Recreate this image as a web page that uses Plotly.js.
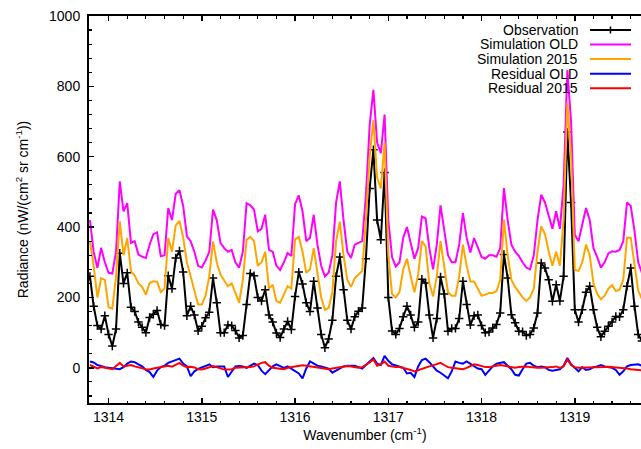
<!DOCTYPE html>
<html>
<head>
<meta charset="utf-8">
<script src="https://cdn.plot.ly/plotly-3.0.1.min.js"></script>
<style>html,body{margin:0;padding:0;background:#fff;}#chart{width:641px;height:449px;}</style>
</head>
<body>
<div id="chart"></div>
<script>
// Wavenumber grid (cm^-1)
const wavenumber = [
1313.80,1313.84,1313.88,1313.92,1313.96,
1314.00,1314.04,1314.08,1314.12,1314.16,1314.20,1314.24,1314.28,1314.32,1314.36,1314.40,1314.44,1314.48,1314.52,1314.56,1314.60,1314.64,1314.68,1314.72,1314.76,1314.80,1314.84,1314.88,1314.92,1314.96,
1315.00,1315.04,1315.08,1315.12,1315.16,1315.20,1315.24,1315.28,1315.32,1315.36,1315.40,1315.44,1315.48,1315.52,1315.56,1315.60,1315.64,1315.68,1315.72,1315.76,1315.80,1315.84,1315.88,1315.92,1315.96,
1316.00,1316.04,1316.08,1316.12,1316.16,1316.20,1316.24,1316.28,1316.32,1316.36,1316.40,1316.44,1316.48,1316.52,1316.56,1316.60,1316.64,1316.68,1316.72,1316.76,1316.80,1316.84,1316.88,1316.92,1316.96,
1317.00,1317.04,1317.08,1317.12,1317.16,1317.20,1317.24,1317.28,1317.32,1317.36,1317.40,1317.44,1317.48,1317.52,1317.56,1317.60,1317.64,1317.68,1317.72,1317.76,1317.80,1317.84,1317.88,1317.92,1317.96,
1318.00,1318.04,1318.08,1318.12,1318.16,1318.20,1318.24,1318.28,1318.32,1318.36,1318.40,1318.44,1318.48,1318.52,1318.56,1318.60,1318.64,1318.68,1318.72,1318.76,1318.80,1318.84,1318.88,1318.92,1318.96,
1319.00,1319.04,1319.08,1319.12,1319.16,1319.20,1319.24,1319.28,1319.32,1319.36,1319.40,1319.44,1319.48,1319.52,1319.56,1319.60,1319.64,1319.68,1319.72
];

const observation = [
260,175,120,110,148,
95,62,110,326,240,270,172,160,130,115,100,143,152,163,123,120,262,225,312,332,272,148,175,150,105,
118,142,158,255,185,100,100,122,120,106,85,92,180,268,262,200,190,222,150,130,99,86,110,132,109,
203,272,238,185,160,246,170,95,57,82,135,260,315,222,135,110,145,161,170,310,510,620,420,364,555,
200,105,95,112,145,175,150,115,130,252,241,150,85,140,258,210,104,112,112,140,246,180,122,148,150,
120,100,102,113,123,156,322,255,151,128,104,103,92,95,113,156,298,284,250,189,236,190,260,670,470,
165,130,165,215,232,165,115,88,104,118,130,146,145,165,232,284,175,95,76
];

const simulationOld = [
420,330,284,341,300,
270,268,330,530,445,468,355,360,322,316,312,350,380,385,317,320,454,420,495,505,460,374,360,330,290,
285,305,330,450,420,355,340,330,335,300,285,330,468,462,450,388,395,435,335,330,290,278,300,326,318,
465,490,445,360,370,435,350,290,260,270,320,470,530,420,330,312,350,355,360,490,690,790,640,610,720,
420,315,288,300,370,400,355,310,340,430,425,340,280,350,462,390,320,300,300,350,440,370,328,369,340,
315,310,320,320,316,340,511,420,350,330,318,300,285,280,320,420,492,470,430,395,445,395,520,846,700,
378,360,410,454,420,340,315,285,300,325,331,330,335,360,470,460,390,300,270
];

const simulation2015 = [
360,290,200,255,250,
172,168,260,416,320,369,275,262,240,230,208,241,246,245,215,225,369,330,405,418,370,300,260,215,180,
180,205,260,359,300,265,248,232,240,213,185,250,364,372,360,290,300,330,225,236,190,185,210,232,225,
365,372,330,270,280,340,270,200,165,170,215,360,415,320,250,230,255,265,275,420,600,705,540,510,640,
320,210,200,215,280,310,260,215,265,360,345,240,203,260,360,290,215,205,205,260,350,290,245,245,225,
205,208,213,213,218,250,421,320,250,230,215,200,190,200,225,330,402,380,330,290,330,290,420,753,600,
279,275,300,350,320,240,210,195,205,225,235,218,222,250,370,370,290,220,195
];

const residualOld = [
18,15,8,4,2,
0,-2,-4,-4,2,12,18,16,10,4,-6,-12,-26,-8,2,6,14,18,20,26,12,4,-24,-10,-3,
0,5,10,2,4,5,4,-26,-12,4,5,4,0,5,12,8,-8,-18,-8,4,10,6,0,4,-2,
-8,-16,-30,-2,18,12,6,4,2,-2,-14,-8,-4,4,6,7,6,2,-2,8,18,28,12,8,34,
20,10,6,4,0,-16,-14,-26,4,22,26,16,4,-8,-14,-22,-30,-10,18,14,12,18,12,4,-2,
-4,-20,-8,4,12,14,16,6,-4,-20,-22,-4,12,14,6,2,4,2,-6,-8,-6,-4,6,28,10,
0,-10,2,-6,-4,2,4,8,4,2,0,-6,-20,-10,4,8,10,10,6
];

const residual2015 = [
8,3,-2,2,0,
-3,-4,5,14,4,6,8,4,2,-1,-5,-5,-2,0,2,4,6,3,8,14,6,2,3,1,-4,
-5,-2,2,5,2,-2,-5,-5,-4,0,0,0,0,2,4,10,14,16,6,0,-2,-4,-4,0,2,
4,6,7,6,4,2,0,0,-2,-4,-2,0,2,5,5,4,2,0,2,8,15,24,6,10,18,
6,3,2,2,0,-3,-6,-10,-6,-2,2,4,7,10,14,8,2,0,-1,-2,-4,0,6,10,8,
4,2,2,3,6,8,6,2,2,0,2,4,4,2,0,0,0,0,2,2,4,0,4,24,8,
2,0,0,0,2,2,0,0,2,3,2,2,2,0,-2,-4,-5,-6,-7
];

const seriesNames = ["Observation", "Simulation OLD", "Simulation 2015", "Residual OLD", "Residual 2015"];
const seriesColors = ["#000000", "#ff00ff", "#ffa500", "#0000ff", "#ff0000"];
const xTickLabels = ["1314", "1315", "1316", "1317", "1318", "1319"];
const yTickLabels = ["0", "200", "400", "600", "800", "1000"];

const FONT = "Liberation Sans, Arial, Helvetica, sans-serif";

const ys = [observation, simulationOld, simulation2015, residualOld, residual2015];
const traces = ys.map((y, k) => {
  const t = {
    x: wavenumber, y: y, type: "scatter", name: seriesNames[k], showlegend: false,
    mode: k === 0 ? "lines+markers" : "lines",
    line: {color: seriesColors[k], width: 2},
    hoverinfo: "skip"
  };
  if (k === 0) {
    t.marker = {symbol: "cross-thin", size: 6, color: "#000", line: {color: "#000", width: 1.5}};
  }
  return t;
});

// Manual legend (text on the left, sample on the right, like the original)
const plotTop = 16, plotBottom = 403.3, plotLeft = 89.3, plotRight = 641;
const ph = plotBottom - plotTop, pw = plotRight - plotLeft;
const px2x = p => (p - plotLeft) / pw;
const px2y = p => (plotBottom - p) / ph;
const rowY = [30, 44.5, 59, 73.7, 88.4];
const annotations = [], shapes = [];
seriesNames.forEach((nm, k) => {
  annotations.push({
    xref: "paper", yref: "paper", x: px2x(580), y: px2y(rowY[k]),
    xanchor: "right", yanchor: "middle", text: nm, showarrow: false,
    font: {family: FONT, size: 14, color: "#000"}
  });
  shapes.push({
    type: "line", xref: "paper", yref: "paper",
    x0: px2x(590), x1: px2x(631), y0: px2y(rowY[k]), y1: px2y(rowY[k]),
    line: {color: seriesColors[k], width: 2}
  });
});
shapes.push({
  type: "line", xref: "paper", yref: "paper",
  x0: px2x(610.5), x1: px2x(610.5), y0: px2y(rowY[0] - 3.5), y1: px2y(rowY[0] + 3.5),
  line: {color: "#000", width: 1.5}
});

const layout = {
  width: 641, height: 449,
  margin: {l: 89, r: 0, t: 16, b: 46, pad: 0},
  paper_bgcolor: "#fff", plot_bgcolor: "#fff",
  font: {family: FONT, size: 14, color: "#000"},
  showlegend: false,
  xaxis: {
    range: [1313.79, 1319.71],
    tickmode: "array", tickvals: xTickLabels.map(Number), ticktext: xTickLabels,
    ticks: "inside", ticklen: 5, tickwidth: 1.5, tickcolor: "#000",
    showline: true, linecolor: "#000", linewidth: 2, mirror: "allticks",
    showgrid: false, zeroline: false,
    minor: {dtick: 0.2, tick0: 1314, ticks: "inside", ticklen: 2.5, tickwidth: 1.2, tickcolor: "#000", showgrid: false},
    tickfont: {family: FONT, size: 14, color: "#000"},
    title: {text: "Wavenumber (cm<sup>-1</sup>)", font: {family: FONT, size: 14, color: "#000"}, standoff: 4}
  },
  yaxis: {
    range: [-100, 1000],
    tickmode: "array", tickvals: yTickLabels.map(Number), ticktext: yTickLabels,
    ticks: "inside", ticklen: 5, tickwidth: 1.5, tickcolor: "#000",
    showline: true, linecolor: "#000", linewidth: 2, mirror: false,
    showgrid: false, zeroline: false,
    minor: {dtick: 40, tick0: 0, ticks: "inside", ticklen: 2.5, tickwidth: 1.2, tickcolor: "#000", showgrid: false},
    tickfont: {family: FONT, size: 14, color: "#000"},
    ticklabelstandoff: 4,
    title: {text: "Radiance (nW/(cm<sup>2</sup> sr cm<sup>-1</sup>))", font: {family: FONT, size: 14, color: "#000"}, standoff: 17}
  },
  annotations: annotations,
  shapes: shapes
};

Plotly.newPlot("chart", traces, layout, {staticPlot: true, displayModeBar: false});
</script>
</body>
</html>
